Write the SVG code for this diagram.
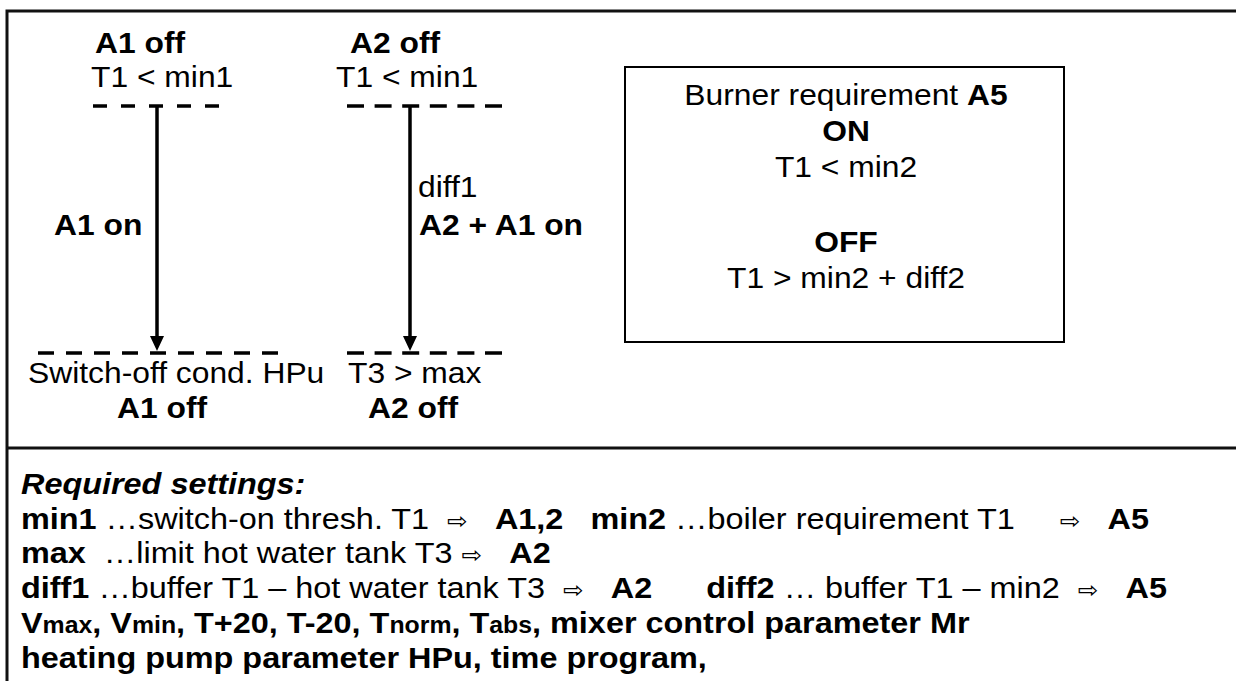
<svg xmlns="http://www.w3.org/2000/svg" width="1236" height="681" viewBox="0 0 1236 681">
<style>
text{font-family:"Liberation Sans","DejaVu Sans",Arial,sans-serif;font-size:30px;fill:#000;white-space:pre}
.b{font-weight:bold}
.bi{font-weight:bold;font-style:italic}
.ar{font-family:"DejaVu Sans",sans-serif;font-size:23px;font-weight:normal}
.sm{font-size:23px}
.frame{fill:none;stroke:#111;stroke-width:3}
.dash{stroke:#000;stroke-width:3.5}
.conn{stroke:#000;stroke-width:3.5;fill:none}
.head{fill:#000}
</style>
<rect width="1236" height="681" fill="#fff"/>
<g id="frame">
<path class="frame" d="M7,681 V11 H1236"/>
<line class="frame" x1="7" y1="448" x2="1236" y2="448"/>
</g>
<g id="connectors">
<line class="conn" x1="157" y1="106" x2="157" y2="337"/>
<path class="head" d="M150,336 L164,336 L157,351 Z"/>
<line class="conn" x1="410" y1="106" x2="410" y2="337"/>
<path class="head" d="M403,336 L417,336 L410,351 Z"/>
</g>
<g id="node-a1-start">
<line class="dash" x1="93" y1="106" x2="221" y2="106" stroke-dasharray="14 14"/>
<text class="b" transform="translate(95,53) scale(1.06,1)">A1 off</text>
<text transform="translate(91,87) scale(1.06,1)">T1 &lt; min1</text>
</g>
<g id="node-a2-start">
<line class="dash" x1="347" y1="106" x2="502" y2="106" stroke-dasharray="17 10.6"/>
<text class="b" transform="translate(350,53) scale(1.06,1)">A2 off</text>
<text transform="translate(336,87) scale(1.06,1)">T1 &lt; min1</text>
</g>
<g id="label-a1on">
<text class="b" transform="translate(54,235) scale(1.06,1)">A1 on</text>
</g>
<g id="label-a2on">
<text transform="translate(418,197) scale(1.06,1)">diff1</text>
<text class="b" transform="translate(419,235) scale(1.06,1)">A2 + A1 on</text>
</g>
<g id="node-a1-end">
<line class="dash" x1="38" y1="353" x2="278" y2="353" stroke-dasharray="16 12"/>
<text transform="translate(28,383) scale(1.06,1)">Switch-off cond. HPu</text>
<text class="b" transform="translate(117,418) scale(1.06,1)">A1 off</text>
</g>
<g id="node-a2-end">
<line class="dash" x1="347" y1="353" x2="502" y2="353" stroke-dasharray="17 10.6"/>
<text transform="translate(348,383) scale(1.06,1)">T3 &gt; max</text>
<text class="b" transform="translate(368,418) scale(1.06,1)">A2 off</text>
</g>
<g id="node-burner">
<rect x="625" y="67" width="439" height="275" fill="none" stroke="#000" stroke-width="2"/>
<text text-anchor="middle" transform="translate(846,105) scale(1.06,1)">Burner requirement <tspan class="b">A5</tspan></text>
<text class="b" text-anchor="middle" transform="translate(846,141) scale(1.06,1)">ON</text>
<text text-anchor="middle" transform="translate(846,177) scale(1.06,1)">T1 &lt; min2</text>
<text class="b" text-anchor="middle" transform="translate(846,252) scale(1.06,1)">OFF</text>
<text text-anchor="middle" transform="translate(846,288) scale(1.06,1)">T1 &gt; min2 + diff2</text>
</g>
<g id="settings">
<text class="bi" transform="translate(21,494) scale(1.08,1)">Required settings:</text>
<text transform="translate(21,529) scale(1.08,1)"><tspan class="b">min1</tspan> …switch-on thresh. T1  <tspan class="ar">⇨</tspan>   <tspan class="b">A1,2</tspan>   <tspan class="b">min2</tspan> …boiler requirement T1     <tspan class="ar">⇨</tspan>   <tspan class="b">A5</tspan></text>
<text transform="translate(21,563) scale(1.08,1)"><tspan class="b">max</tspan>  …limit hot water tank T3 <tspan class="ar">⇨</tspan>   <tspan class="b">A2</tspan></text>
<text transform="translate(21,598) scale(1.08,1)"><tspan class="b">diff1</tspan> …buffer T1 – hot water tank T3  <tspan class="ar">⇨</tspan>   <tspan class="b">A2</tspan>      <tspan class="b">diff2</tspan> … buffer T1 – min2  <tspan class="ar">⇨</tspan>   <tspan class="b">A5</tspan></text>
<text class="b" transform="translate(21,633) scale(1.08,1)">V<tspan class="sm">max</tspan>, V<tspan class="sm">min</tspan>, T+20, T-20, T<tspan class="sm">norm</tspan>, T<tspan class="sm">abs</tspan>, mixer control parameter Mr</text>
<text class="b" transform="translate(21,668) scale(1.08,1)">heating pump parameter HPu, time program,</text>
</g>
</svg>
